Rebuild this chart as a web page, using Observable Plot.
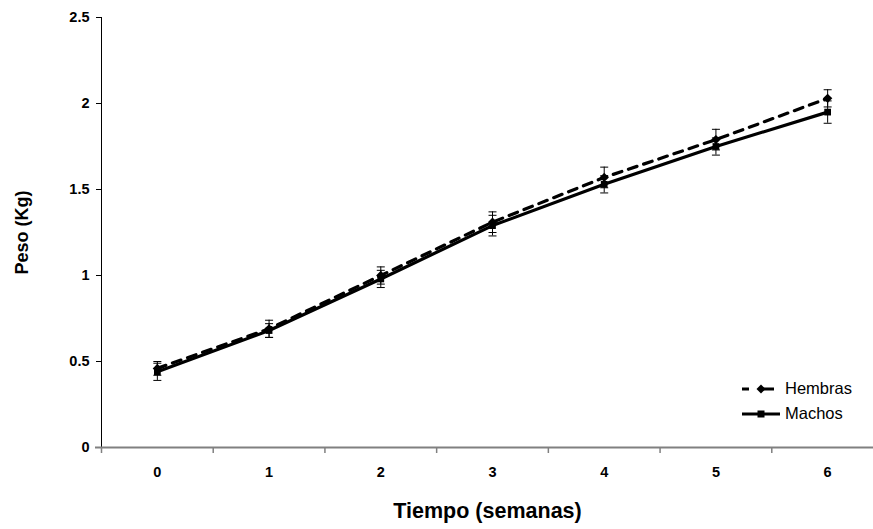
<!DOCTYPE html>
<html>
<head>
<meta charset="utf-8">
<script src="https://cdn.jsdelivr.net/npm/d3@7"></script>
<script src="https://cdn.jsdelivr.net/npm/@observablehq/plot@0.6"></script>
<style>
  body { margin: 0; background: white; }
  #wrap { position: relative; width: 873px; height: 529px; overflow: hidden; }
  #legend { position: absolute; left: 738px; top: 376px; font-family: "Liberation Sans", Arial, sans-serif; font-size: 16.5px; color: #000; }
  .row { display: flex; align-items: center; height: 25px; }
  .row svg { margin-right: 3px; }
</style>
</head>
<body>
<div id="wrap"><div id="legend"></div></div>
<script>
const weeks = [0, 1, 2, 3, 4, 5, 6];
const hembras = [0.46, 0.69, 1.00, 1.31, 1.57, 1.79, 2.03];
const hembrasErr = [0.04, 0.05, 0.05, 0.06, 0.06, 0.06, 0.05];
const machos = [0.44, 0.68, 0.98, 1.29, 1.53, 1.75, 1.95];
const machosErr = [0.05, 0.04, 0.05, 0.06, 0.05, 0.05, 0.065];
const yTicks = [0, 0.5, 1, 1.5, 2, 2.5];
const seriesNames = ["Hembras", "Machos"];

const rowsH = weeks.map((w, i) => ({week: w, value: hembras[i], err: hembrasErr[i], serie: "Hembras"}));
const rowsM = weeks.map((w, i) => ({week: w, value: machos[i], err: machosErr[i], serie: "Machos"}));
const all = rowsH.concat(rowsM);
const bounds = weeks.map(w => w - 0.5).concat([weeks[weeks.length - 1] + 0.5]);

const capSymbol = {draw(ctx, size) { const r = 4; ctx.moveTo(-r, 0); ctx.lineTo(r, 0); }};
const font = "'Liberation Sans', Arial, sans-serif";

const chart = Plot.plot({
  width: 873,
  height: 529,
  marginLeft: 101,
  marginRight: 0,
  marginTop: 17,
  marginBottom: 82,
  x: {type: "linear", domain: [-0.5, 6.5], range: [101, 883]},
  y: {domain: [0, 2.5], range: [447, 17]},
  style: {fontFamily: font, background: "white", color: "black", overflow: "hidden"},
  marks: [
    Plot.axisY({ticks: yTicks, tickSize: 5, tickFormat: () => "", label: null, stroke: "black"}),
    Plot.text(yTicks, {y: d => d, frameAnchor: "left", textAnchor: "end", dx: -12, text: d3.format(""), fontSize: 14.5, fontWeight: "bold", fill: "black"}),
    Plot.ruleX([-0.5], {y1: 0, y2: 2.5, stroke: "black", strokeWidth: 1}),
    Plot.axisX({ticks: bounds, tickSize: 6, tickFormat: () => "", stroke: "#808080", strokeWidth: 1.5, label: null}),
    Plot.text(weeks, {x: d => d, frameAnchor: "bottom", dy: 29, text: d3.format("d"), fontSize: 14.5, fontWeight: "bold", fill: "black"}),
    Plot.ruleY([0], {stroke: "#808080", strokeWidth: 2, insetLeft: -6}),
    Plot.text(["Peso (Kg)"], {frameAnchor: "left", textAnchor: "middle", rotate: -90, dx: -79, fontSize: 18, fontWeight: "bold", fill: "black"}),
    Plot.text(["Tiempo (semanas)"], {frameAnchor: "bottom", textAnchor: "middle", dy: 70, fontSize: 21.5, fontWeight: "bold", fill: "black"}),
    // error bars
    Plot.ruleX(all, {x: "week", y1: d => d.value - d.err, y2: d => d.value + d.err, stroke: "black", strokeWidth: 1}),
    Plot.dot(all, {x: "week", y: d => d.value - d.err, symbol: capSymbol, stroke: "black", strokeWidth: 1, fill: "none"}),
    Plot.dot(all, {x: "week", y: d => d.value + d.err, symbol: capSymbol, stroke: "black", strokeWidth: 1, fill: "none"}),
    // lines
    Plot.line(rowsM, {x: "week", y: "value", stroke: "black", strokeWidth: 3.2}),
    Plot.line(rowsH, {x: "week", y: "value", stroke: "black", strokeWidth: 3.2, strokeDasharray: "9,7"}),
    Plot.dot(rowsM, {x: "week", y: "value", symbol: "square", r: 3.8, fill: "black"}),
    Plot.dot(rowsH, {x: "week", y: "value", symbol: "diamond2", r: 4.2, fill: "black"})
  ]
});
document.getElementById("wrap").prepend(chart);

// legend
const legend = d3.select("#legend");
seriesNames.forEach((name, i) => {
  const row = legend.append("div").attr("class", "row");
  const s = row.append("svg").attr("width", 44).attr("height", 12);
  s.append("line").attr("x1", 4).attr("x2", 42).attr("y1", 6).attr("y2", 6)
    .attr("stroke", "black").attr("stroke-width", 3)
    .attr("stroke-dasharray", i === 0 ? "7,13,12" : null);
  if (i === 0) {
    s.append("path").attr("d", "M23,1.5L27.5,6L23,10.5L18.5,6Z").attr("fill", "black");
  } else {
    s.append("rect").attr("x", 19.5).attr("y", 2.5).attr("width", 7).attr("height", 7).attr("fill", "black");
  }
  row.append("span").text(name);
});
</script>
</body>
</html>
